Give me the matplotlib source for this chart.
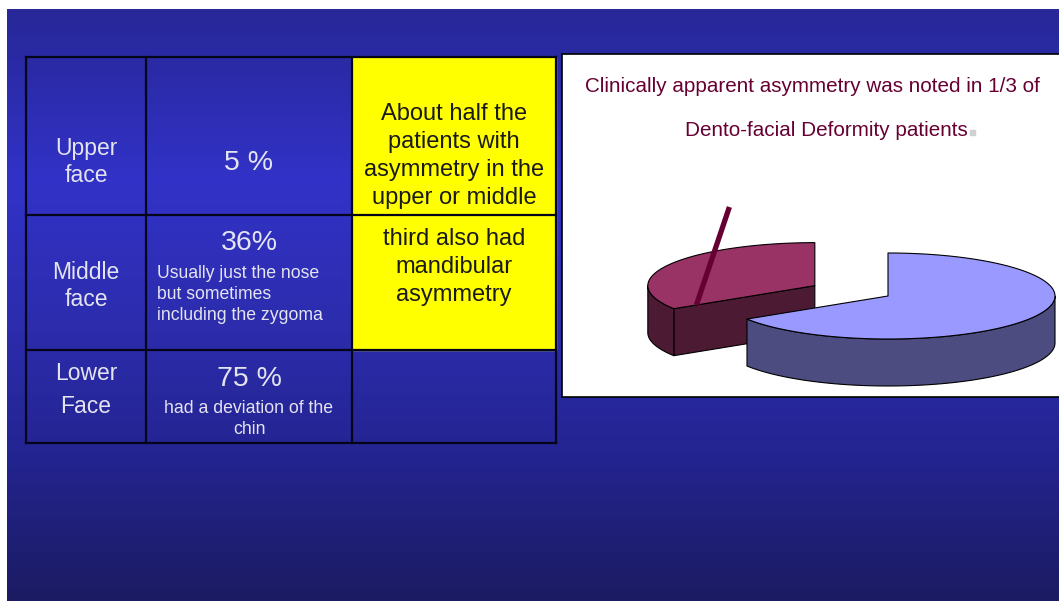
import numpy as np
import matplotlib
matplotlib.use("Agg")
import matplotlib.pyplot as plt
from matplotlib.patches import Polygon, Rectangle

plt.rcParams['font.family'] = ['Liberation Sans', 'DejaVu Sans']

# Table content
regions = ["Upper\nface", "Middle\nface", "Lower\nFace"]
region_pct = ["5 %", "36%", "75 %"]
region_notes = ["", "Usually just the nose\nbut sometimes\nincluding the zygoma",
                "had a deviation of the\nchin"]
note_upper = ["About half the", "patients with", "asymmetry in the", "upper or middle"]
note_lower = ["third also had", "mandibular", "asymmetry"]

# Pie data: share of patients with clinically apparent asymmetry
pie_labels = ["Asymmetry", "No asymmetry"]
pie_values = [34, 66]
pie_top_colors = ["#993366", "#9999ff"]
pie_side_colors = ["#4d1a33", "#4c4c80"]
pie_explode = [0.5, 0.0]
pie_title = ["Clinically apparent asymmetry was noted in 1/3 of",
             "Dento-facial Deformity patients"]

fig = plt.figure(figsize=(10.59, 6.01), dpi=100)
ax = fig.add_axes([0, 0, 1, 1])
ax.set_xlim(0, 1059)
ax.set_ylim(601, 0)
ax.axis('off')

# slide background gradient
ys = np.arange(9, 601)
stops_y = [9, 60, 180, 330, 450, 601]
stops_c = np.array([[40, 40, 152], [42, 42, 165], [50, 50, 200],
                    [44, 44, 172], [36, 36, 146], [27, 27, 98]]) / 255
grad = np.stack([np.interp(ys, stops_y, stops_c[:, k]) for k in range(3)], axis=1)
img = np.repeat(grad[:, None, :], 2, axis=1)
ax.imshow(img, extent=(7, 1059, 601, 9), aspect='auto', zorder=0)

# table
x0, x1, x2, x3 = 26, 146, 352, 556
y0, y1, y2, y3 = 57, 215, 350, 443
ax.add_patch(Rectangle((x2, y0), x3 - x2, y2 - y0, color="#ffff00", zorder=1))
lw = 1.6
for x in (x0, x1, x2, x3):
    ax.plot([x, x], [y0, y3], color="#05051a", lw=lw, zorder=2)
for y in (y0, y1, y2, y3):
    ax.plot([x0, x3], [y, y], color="#05051a", lw=lw, zorder=2)

txt = "#e4e4f0"
c1 = (x0 + x1) / 2
c2 = (x1 + x2) / 2
c3 = (x2 + x3) / 2
ax.text(c1, 162, regions[0], color=txt, fontsize=16.5, ha='center', va='center', linespacing=1.27)
ax.text(c1, 286, regions[1], color=txt, fontsize=16.5, ha='center', va='center', linespacing=1.27)
ax.text(c1, 390, regions[2], color=txt, fontsize=16.5, ha='center', va='center', linespacing=1.6)

ax.text(c2, 163, region_pct[0], color=txt, fontsize=20.5, ha='center', va='center')
ax.text(c2, 243, region_pct[1], color=txt, fontsize=20.5, ha='center', va='center')
ax.text(157, 294.5, region_notes[1], color=txt, fontsize=12.7, ha='left', va='center', linespacing=1.32)
ax.text(c2, 379, region_pct[2], color=txt, fontsize=20.5, ha='center', va='center')
ax.text(c2, 419, region_notes[2], color=txt, fontsize=12.7, ha='center', va='center', linespacing=1.32)

for i, line in enumerate(note_upper):
    ax.text(c3, 114 + 28 * i, line, color="#1a1a1a", fontsize=17, ha='center', va='center')
for i, line in enumerate(note_lower):
    ax.text(c3, 239 + 28 * i, line, color="#1a1a1a", fontsize=17, ha='center', va='center')

# pie panel
ax.add_patch(Rectangle((562, 54), 520, 343, facecolor="white", edgecolor="black", lw=1.2, zorder=1))
ax.text(812, 86, pie_title[0], color="#660033", fontsize=14.9, ha='center', va='center')
ax.text(826, 130, pie_title[1], color="#660033", fontsize=14.9, ha='center', va='center')
ax.add_patch(Rectangle((970, 130), 5, 5, color="#d0d0d0", zorder=3))

# 3D pie
cx, cy, ra, rb, depth = 888, 296, 167, 43, 47


def ell(t, ox, oy, dz=0.0):
    t = np.radians(t)
    return np.column_stack([ox + ra * np.cos(t), oy - rb * np.sin(t) + dz])


fracs = np.array(pie_values, dtype=float) / sum(pie_values)
starts = 90 + 360 * np.concatenate([[0], np.cumsum(fracs)[:-1]])
slices = []
for f, s, e in zip(fracs, starts, pie_explode):
    t0, t1 = s, s + 360 * f
    mid = np.radians((t0 + t1) / 2)
    ox = cx + e * ra * np.cos(mid)
    oy = cy - e * rb * np.sin(mid)
    slices.append((t0, t1, ox, oy))

for (t0, t1, ox, oy), ctop, cside in zip(slices, pie_top_colors, pie_side_colors):
    kw = dict(edgecolor="black", lw=0.8, zorder=4, joinstyle='round')
    # radial faces
    for tb, nrm in ((t0, t0 - 90), (t1, t1 + 90)):
        if np.sin(np.radians(nrm)) < -1e-6:
            rim = ell(tb, ox, oy)[0]
            face = [(ox, oy), tuple(rim), (rim[0], rim[1] + depth), (ox, oy + depth)]
            ax.add_patch(Polygon(face, closed=True, facecolor=cside, **kw))
    # curved front side
    for base in (180, 540):
        a0, a1 = max(t0, base), min(t1, base + 180)
        if a1 > a0:
            tt = np.linspace(a0, a1, 80)
            top = ell(tt, ox, oy)
            bot = ell(tt[::-1], ox, oy, depth)
            ax.add_patch(Polygon(np.vstack([top, bot]), closed=True, facecolor=cside, **kw))
    tt = np.linspace(t0, t1, 200)
    top = np.vstack([[ox, oy], ell(tt, ox, oy)])
    ax.add_patch(Polygon(top, closed=True, facecolor=ctop, **kw))

# leader line onto the exploded slice
t0, t1, ox, oy = slices[0]
rim = ell(t1, ox, oy)[0]
anchor = (ox + 0.84 * (rim[0] - ox), oy + 0.84 * (rim[1] - oy))
ax.plot([anchor[0], anchor[0] + 33], [anchor[1], anchor[1] - 98],
        color="#660033", lw=3.8, solid_capstyle='butt', zorder=5)

fig.savefig("out.png", dpi=100)
